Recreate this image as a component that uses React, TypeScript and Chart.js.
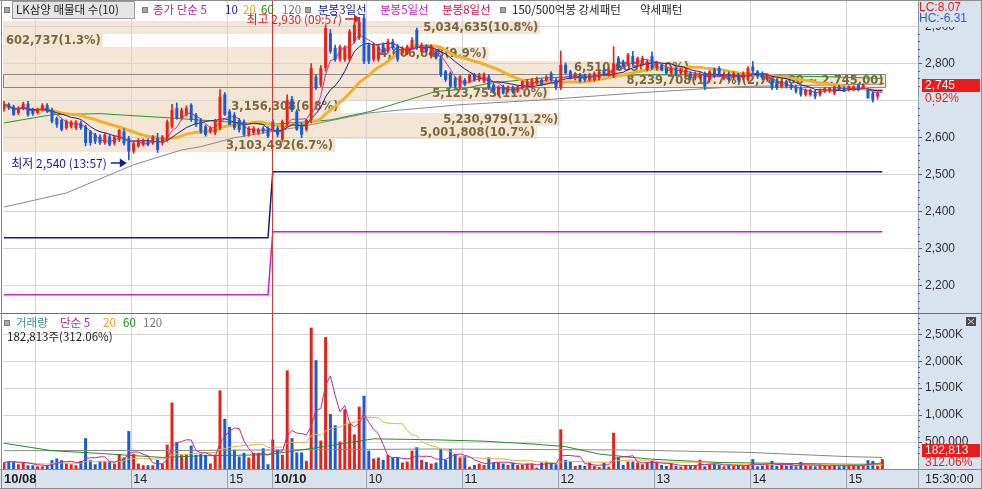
import React, { useEffect, useRef } from 'react';
import { Chart, registerables } from 'chart.js';

Chart.register(...registerables);

// ---------------- data ----------------
const stockName = 'LK삼양';
const dayLabels = ['10/08', '10/10'];
const dayStarts = ['12:39', '09:00'];
const dayHours = [[13, 14, 15], [10, 11, 12, 13, 14, 15]];
const closeTimeLabel = '15:30:00';

// 3-minute candles [open, high, low, close]
const candles1008 = [
  [2678, 2698, 2672, 2690], [2690, 2694, 2676, 2680], [2684, 2688, 2660, 2662], [2667, 2684, 2662, 2680], [2680, 2696, 2676, 2692],
  [2692, 2698, 2658, 2662], [2677, 2680, 2660, 2664], [2667, 2680, 2664, 2676], [2676, 2692, 2672, 2688], [2688, 2692, 2668, 2671],
  [2675, 2680, 2640, 2644], [2653, 2656, 2628, 2635], [2648, 2650, 2618, 2622], [2626, 2648, 2622, 2644], [2630, 2646, 2626, 2643],
  [2626, 2646, 2622, 2644], [2640, 2645, 2622, 2626], [2630, 2634, 2578, 2586], [2617, 2620, 2580, 2586], [2608, 2612, 2584, 2590],
  [2603, 2608, 2582, 2586], [2586, 2612, 2582, 2608], [2603, 2608, 2578, 2581], [2585, 2605, 2580, 2603], [2594, 2622, 2590, 2621],
  [2617, 2624, 2580, 2585], [2599, 2604, 2540, 2563], [2563, 2590, 2558, 2585], [2577, 2598, 2574, 2594], [2581, 2597, 2578, 2594],
  [2594, 2598, 2578, 2581], [2585, 2606, 2582, 2603], [2599, 2612, 2560, 2567], [2585, 2606, 2580, 2603], [2594, 2648, 2590, 2644],
  [2630, 2690, 2626, 2675], [2680, 2694, 2650, 2653], [2653, 2680, 2648, 2675], [2662, 2686, 2658, 2680], [2689, 2692, 2644, 2648],
  [2662, 2666, 2630, 2635], [2648, 2652, 2612, 2617], [2630, 2634, 2604, 2608], [2617, 2630, 2612, 2626], [2613, 2650, 2608, 2648],
  [2626, 2730, 2622, 2711], [2716, 2722, 2660, 2662], [2671, 2676, 2635, 2635], [2662, 2668, 2622, 2626], [2648, 2652, 2615, 2621],
  [2644, 2648, 2604, 2608], [2608, 2630, 2604, 2626], [2613, 2630, 2608, 2626], [2613, 2626, 2608, 2622], [2626, 2630, 2612, 2617],
  [2626, 2630, 2600, 2604],
];
const candles1010 = [
  [2644, 2650, 2618, 2622], [2626, 2630, 2602, 2608], [2595, 2648, 2590, 2644], [2635, 2716, 2630, 2702], [2705, 2712, 2670, 2675],
  [2671, 2676, 2620, 2622], [2635, 2640, 2600, 2608], [2622, 2650, 2618, 2648], [2648, 2800, 2640, 2788], [2765, 2770, 2730, 2734],
  [2743, 2795, 2738, 2788], [2788, 2905, 2780, 2896], [2882, 2892, 2828, 2833], [2842, 2850, 2806, 2811], [2811, 2850, 2806, 2846],
  [2811, 2848, 2806, 2842], [2811, 2892, 2806, 2887], [2860, 2910, 2855, 2905], [2869, 2925, 2865, 2914], [2923, 2930, 2800, 2806],
  [2851, 2856, 2800, 2806], [2811, 2856, 2806, 2851], [2811, 2852, 2806, 2846], [2851, 2856, 2830, 2833], [2833, 2866, 2828, 2860],
  [2860, 2866, 2838, 2842], [2846, 2852, 2806, 2811], [2828, 2846, 2824, 2842], [2828, 2850, 2824, 2846], [2842, 2870, 2838, 2864],
  [2891, 2896, 2838, 2842], [2833, 2856, 2828, 2851], [2846, 2852, 2830, 2833], [2820, 2850, 2815, 2846], [2833, 2838, 2812, 2815],
  [2815, 2820, 2765, 2770], [2779, 2782, 2752, 2756], [2774, 2778, 2734, 2738], [2761, 2764, 2734, 2738], [2738, 2768, 2732, 2765],
  [2756, 2760, 2740, 2743], [2752, 2772, 2748, 2770], [2770, 2774, 2752, 2756], [2756, 2774, 2752, 2770], [2752, 2775, 2748, 2770],
  [2765, 2770, 2730, 2734], [2743, 2746, 2720, 2725], [2716, 2740, 2712, 2738], [2738, 2742, 2718, 2720], [2725, 2740, 2722, 2738],
  [2736, 2740, 2720, 2723], [2725, 2742, 2722, 2738], [2734, 2754, 2730, 2752], [2738, 2756, 2734, 2752], [2738, 2760, 2734, 2756],
  [2747, 2764, 2744, 2761], [2756, 2760, 2740, 2743], [2756, 2768, 2752, 2765], [2774, 2778, 2752, 2756], [2756, 2760, 2730, 2734],
  [2734, 2834, 2730, 2797], [2797, 2802, 2772, 2774], [2779, 2782, 2758, 2761], [2761, 2776, 2756, 2774], [2770, 2774, 2750, 2752],
  [2770, 2772, 2752, 2756], [2756, 2774, 2752, 2770], [2756, 2778, 2752, 2774], [2761, 2782, 2756, 2779], [2783, 2788, 2766, 2770],
  [2770, 2788, 2766, 2783], [2766, 2846, 2762, 2801], [2815, 2820, 2784, 2788], [2806, 2810, 2790, 2792], [2797, 2828, 2794, 2824],
  [2820, 2833, 2798, 2801], [2797, 2818, 2794, 2815], [2797, 2820, 2794, 2815], [2783, 2810, 2780, 2806], [2820, 2832, 2784, 2788],
  [2788, 2806, 2784, 2801], [2797, 2800, 2780, 2783], [2788, 2792, 2770, 2774], [2774, 2792, 2770, 2788], [2788, 2792, 2766, 2770],
  [2774, 2788, 2770, 2783], [2770, 2788, 2766, 2783], [2774, 2778, 2756, 2761], [2761, 2778, 2756, 2774], [2761, 2776, 2758, 2770],
  [2774, 2778, 2730, 2738], [2756, 2782, 2750, 2779], [2784, 2788, 2762, 2766], [2788, 2792, 2766, 2770], [2761, 2778, 2756, 2774],
  [2774, 2778, 2752, 2756], [2761, 2778, 2756, 2774], [2770, 2774, 2750, 2756], [2761, 2778, 2756, 2774], [2756, 2792, 2752, 2788],
  [2792, 2806, 2776, 2779], [2779, 2782, 2760, 2765], [2774, 2778, 2756, 2761], [2756, 2772, 2752, 2770], [2756, 2760, 2730, 2734],
  [2752, 2756, 2730, 2734], [2738, 2754, 2734, 2752], [2752, 2756, 2734, 2738], [2743, 2746, 2730, 2734], [2738, 2742, 2720, 2725],
  [2734, 2738, 2712, 2716], [2716, 2732, 2712, 2729], [2716, 2732, 2712, 2729], [2725, 2728, 2705, 2711], [2716, 2732, 2712, 2729],
  [2725, 2736, 2722, 2734], [2725, 2736, 2722, 2734], [2720, 2740, 2716, 2738], [2738, 2742, 2728, 2729], [2734, 2738, 2724, 2725],
  [2729, 2740, 2726, 2738], [2729, 2740, 2726, 2738], [2743, 2746, 2726, 2729], [2734, 2746, 2732, 2743], [2729, 2732, 2706, 2707],
  [2720, 2724, 2696, 2702], [2711, 2724, 2704, 2720], [2745, 2745, 2745, 2745],
];
// volume in thousand shares
const volume1008 = [
  120, 151, 138, 88, 120, 69, 69, 50, 50, 69,
  164, 195, 164, 101, 88, 69, 151, 572, 164, 88,
  151, 151, 132, 101, 277, 214, 704, 277, 101, 69,
  69, 69, 170, 101, 453, 1233, 497, 264, 264, 434,
  264, 277, 264, 101, 264, 1459, 931, 780, 358, 233,
  302, 214, 302, 302, 384, 88,
];
const volume1010 = [
  547, 358, 264, 1830, 572, 308, 308, 151, 2623, 2019,
  528, 2447, 1019, 811, 509, 1107, 843, 642, 1157, 1359,
  340, 195, 214, 170, 264, 214, 214, 120, 138, 340,
  403, 170, 132, 101, 120, 371, 170, 371, 277, 214,
  239, 44, 75, 101, 75, 214, 120, 120, 101, 75,
  120, 75, 75, 101, 101, 25, 120, 138, 120, 88,
  736, 170, 138, 57, 75, 57, 120, 57, 38, 120,
  44, 673, 214, 75, 138, 138, 120, 88, 120, 151,
  120, 75, 57, 101, 57, 44, 75, 57, 69, 170,
  50, 82, 101, 75, 50, 69, 57, 69, 57, 75,
  182, 50, 63, 88, 151, 57, 75, 63, 69, 50,
  133, 63, 57, 50, 69, 63, 57, 75, 50, 57,
  63, 69, 57, 63, 164, 150, 58.583, 182.813,
];

// long averages: [bar, value]
const priceMa60 = [[0, 2640], [10, 2662], [20, 2665], [34, 2654], [55, 2635], [68, 2648], [76, 2670], [90, 2725], [95, 2730], [101, 2747], [112, 2761], [125, 2768], [139, 2770], [155, 2768], [170, 2765], [183, 2760]];
const priceMa120 = [[0, 2413], [13, 2451], [27, 2527], [37, 2567], [41, 2576], [48, 2600], [62, 2630], [76, 2667], [95, 2689], [112, 2702], [132, 2721], [153, 2738], [183, 2745]];
const volumeMa60 = [[0, 478], [10, 340], [20, 289], [33, 214], [41, 245], [55, 264], [68, 434], [77, 560], [90, 541], [100, 516], [110, 465], [117, 415], [124, 277], [131, 214], [135, 182], [149, 120], [177, 88], [183, 88]];
const volumeMa120 = [[0, 340], [40, 345], [90, 371], [130, 352], [155, 308], [175, 233], [183, 214]];
const dayLine3 = [2330, 2508];
const dayLine5 = [2176, 2346];

// volume profile (top band first)
const bandVolumes = [5034635, 602737, 4606848, 6510605, 8239708, 5123755, 3156308, 5230979, 5001808, 3103492];
const bandPercents = [10.8, 1.3, 9.9, 14.0, 17.7, 11.0, 6.8, 11.2, 10.7, 6.7];
const bandTopPrice = 2914;
const bandStepPrice = 35.2;
const maxBandRange = '2,780.00 ~ 2,745.00';

const priceTicks = [2200, 2300, 2400, 2500, 2600, 2700, 2800, 2900];
const volumeTicks = [500, 1000, 1500, 2000, 2500];
const changePercent = 0.92;
const lcValue = '8.07';
const hcValue = '-6.31';

// ---------------- derived ----------------
const candles = [...candles1008, ...candles1010];
const volumes = [...volume1008, ...volume1010];
const dayOffsets = [0, candles1008.length];
const N = candles.length;
const toMin = (s: string) => Number(s.slice(0, 2)) * 60 + Number(s.slice(3, 5));
const hourMarks: { pos: number; label: string }[] = [];
dayHours.forEach((hs, d) => hs.forEach((h) => hourMarks.push({ pos: dayOffsets[d] + (h * 60 - toMin(dayStarts[d])) / 3 - 0.5, label: String(h) })));
const dayOf = (i: number) => (i >= dayOffsets[1] ? 1 : 0);
const barTime = (i: number) => {
  const d = dayOf(i);
  const m = toMin(dayStarts[d]) + 3 * (i - dayOffsets[d]);
  return `${String(Math.floor(m / 60)).padStart(2, '0')}:${String(m % 60).padStart(2, '0')}`;
};
const sma = (vals: number[], n: number) => vals.map((_, i) => {
  const s = Math.max(0, i - n + 1);
  let t = 0;
  for (let k = s; k <= i; k++) t += vals[k];
  return t / (i - s + 1);
});
const closes = candles.map((c) => c[3]);
const isUp = (c: number[]) => c[3] >= c[0];
const fmt = (v: number) => Math.round(v).toLocaleString('en-US');

// ---------------- style ----------------
const RED = '#e3241b';
const BLUE = '#1b5bcf';
const AXIS_BG = '#d9e3ee';
const GRID = '#d5d5d5';
const BAND_FILL = '#f4e6d4';
const BAND_TEXT = '#7a683c';
const BAND_FONT = "bold 11.5px 'DejaVu Sans', sans-serif";
const KR_FONT = "11.5px 'Noto Sans CJK KR', sans-serif";
const KR_FONT12 = "12px 'Noto Sans CJK KR', sans-serif";
const NUM_FONT = "12px 'Liberation Sans', Arial, sans-serif";
const X_MIN = -0.208;
const X_MAX = 190.417;
const C_MA5 = '#cc2ab8';
const C_MA10 = '#1c1c8e';
const C_MA20 = '#f0b22e';
const C_MA60 = '#279a2b';
const C_MA120 = '#8a8a8a';

const barColors = candles.map((c) => (isUp(c) ? RED : BLUE));

function xScaleOptions() {
  return {
    type: 'linear',
    position: 'bottom',
    min: X_MIN,
    max: X_MAX,
    offset: false,
    grid: { color: GRID, drawTicks: false, offset: false },
    border: { display: false },
    ticks: { display: false },
    afterBuildTicks: (s: any) => { s.ticks = hourMarks.map((m) => ({ value: m.pos })); },
    afterFit: (s: any) => { s.height = 0; s.paddingLeft = 0; s.paddingRight = 0; },
  };
}

// invisible horizontal scale for the volume-profile bar lengths
function profileScaleOptions() {
  return {
    type: 'linear',
    position: 'bottom',
    min: 930000,
    max: 9890000,
    offset: false,
    grid: { display: false, drawTicks: false },
    border: { display: false },
    ticks: { display: false },
    afterFit: (s: any) => { s.height = 0; s.paddingLeft = 0; s.paddingRight = 0; },
  };
}

function lineDs(data: any[], color: string, width: number, order: number) {
  return { type: 'line', data, borderColor: color, borderWidth: width, pointRadius: 0, tension: 0, fill: false, order };
}
const pts = (arr: number[]) => arr.map((v, i) => ({ x: i, y: v }));
const pairPts = (arr: number[][]) => arr.map(([x, y]) => ({ x, y }));

function txt(ctx: CanvasRenderingContext2D, s: string, x: number, y: number, color: string, font: string, align: CanvasTextAlign = 'left') {
  ctx.font = font;
  ctx.fillStyle = color;
  ctx.textAlign = align;
  ctx.textBaseline = 'middle';
  ctx.fillText(s, x, y);
}
function bullet(ctx: CanvasRenderingContext2D, x: number, y: number) {
  ctx.fillStyle = '#a8a8a8';
  ctx.fillRect(x, y, 6, 6);
  ctx.strokeStyle = '#7a7a7a';
  ctx.lineWidth = 1;
  ctx.strokeRect(x + 0.5, y + 0.5, 5, 5);
}
function arrow(ctx: CanvasRenderingContext2D, x0: number, x1: number, y: number, color: string) {
  ctx.strokeStyle = color;
  ctx.fillStyle = color;
  ctx.lineWidth = 1.5;
  ctx.beginPath();
  ctx.moveTo(x0, y);
  ctx.lineTo(x1 - 5, y);
  ctx.stroke();
  ctx.beginPath();
  ctx.moveTo(x1, y);
  ctx.lineTo(x1 - 7, y - 4.5);
  ctx.lineTo(x1 - 7, y + 4.5);
  ctx.closePath();
  ctx.fill();
}

function bandLayout(chart: any) {
  const { ctx, chartArea: a } = chart;
  const ys = chart.scales.y;
  const xs = chart.scales.x;
  const xp = chart.scales.xp;
  const lastX = xs.getPixelForValue(N - 1);
  const maxV = Math.max(...bandVolumes);
  ctx.save();
  ctx.font = BAND_FONT;
  const out = bandVolumes.map((v, k) => {
    const hi = bandTopPrice - k * bandStepPrice;
    const lo = hi - bandStepPrice;
    const y0 = Math.round(ys.getPixelForValue(hi));
    const y1 = Math.round(ys.getPixelForValue(lo));
    const isMax = v === maxV;
    const text = `${fmt(v)}(${bandPercents[k].toFixed(1)}%)` + (isMax ? `(${maxBandRange})` : '');
    const w = ctx.measureText(text).width;
    let lx = xp.getPixelForValue(v);
    lx = Math.min(lx, lastX - w);
    lx = Math.max(lx, a.left + 2);
    return { y0, y1, lx, w, text, isMax };
  });
  ctx.restore();
  return { bands: out, lastX };
}

const pricePlugin = {
  id: 'pricePanel',
  beforeDraw(chart: any) {
    const { ctx, chartArea: a, width, height } = chart;
    ctx.save();
    ctx.fillStyle = '#fff';
    ctx.fillRect(0, 0, width, height);
    ctx.fillStyle = AXIS_BG;
    ctx.fillRect(a.right, 0, width - a.right, height);
    const { bands } = bandLayout(chart);
    ctx.fillStyle = BAND_FILL;
    bands.forEach((b) => ctx.fillRect(a.left, b.y0, b.lx + b.w + 3 - a.left, b.y1 - b.y0));
    ctx.restore();
  },
  beforeDatasetsDraw(chart: any) {
    const { ctx, chartArea: a } = chart;
    const { bands, lastX } = bandLayout(chart);
    ctx.save();
    bands.forEach((b) => {
      if (b.isMax) {
        ctx.strokeStyle = '#8a8a8a';
        ctx.lineWidth = 1;
        ctx.strokeRect(a.left + 0.5, b.y0 + 0.5, Math.round(lastX + 3 - a.left), b.y1 - b.y0);
      }
      txt(ctx, b.text, b.lx + 1, (b.y0 + b.y1) / 2 + 0.5, BAND_TEXT, BAND_FONT);
    });
    ctx.restore();
  },
  afterDraw(chart: any) {
    const { ctx, chartArea: a, width, height } = chart;
    const xs = chart.scales.x;
    const ys = chart.scales.y;
    ctx.save();
    // day separator
    ctx.strokeStyle = '#d23a3a';
    ctx.lineWidth = 1;
    for (let d = 1; d < dayOffsets.length; d++) {
      const x = Math.round(xs.getPixelForValue(dayOffsets[d] - 0.25)) + 0.5;
      ctx.beginPath();
      ctx.moveTo(x, 0);
      ctx.lineTo(x, height);
      ctx.stroke();
    }
    // highest / lowest annotations
    let hiI = 0;
    let loI = 0;
    candles.forEach((c, i) => {
      if (c[1] > candles[hiI][1]) hiI = i;
      if (c[2] < candles[loI][2]) loI = i;
    });
    const hx = xs.getPixelForValue(hiI);
    const hy = ys.getPixelForValue(candles[hiI][1]) + 3.5;
    txt(ctx, `최고 ${fmt(candles[hiI][1])} (${barTime(hiI)})`, hx - 22, hy, '#d81e1e', KR_FONT12, 'right');
    arrow(ctx, hx - 19, hx - 3, hy, '#d81e1e');
    const lx = xs.getPixelForValue(loI);
    const ly = ys.getPixelForValue(candles[loI][2]) + 3;
    txt(ctx, `최저 ${fmt(candles[loI][2])} (${barTime(loI)})`, lx - 22, ly, '#1a1aa0', KR_FONT12, 'right');
    arrow(ctx, lx - 18, lx - 2, ly, '#1a1aa0');

    // header legend
    bullet(ctx, 4, 7);
    ctx.fillStyle = '#e4e4e4';
    ctx.fillRect(12, 1, 122, 17);
    ctx.strokeStyle = '#9a9a9a';
    ctx.strokeRect(12.5, 1.5, 122, 17);
    txt(ctx, `${stockName} 매물대 수(${bandVolumes.length})`, 16, 10, '#222', KR_FONT);
    bullet(ctx, 142, 7);
    txt(ctx, '종가 단순 5', 153, 10, '#b5259f', KR_FONT);
    txt(ctx, '10', 225, 10, '#1c1c9c', KR_FONT);
    txt(ctx, '20', 243, 10, '#e5a21e', KR_FONT);
    txt(ctx, '60', 261, 10, '#1f8a1f', KR_FONT);
    txt(ctx, '120', 282, 10, '#777', KR_FONT);
    bullet(ctx, 305, 7);
    txt(ctx, '분봉3일선', 318, 10, '#101a8c', KR_FONT);
    txt(ctx, '분봉5일선', 380, 10, '#c21cc2', KR_FONT);
    txt(ctx, '분봉8일선', 442, 10, '#d0124c', KR_FONT);
    bullet(ctx, 500, 7);
    txt(ctx, '150/500억봉 강세패턴', 512, 10, '#222', KR_FONT);
    txt(ctx, '약세패턴', 640, 10, '#222', KR_FONT);

    // minor ticks
    ctx.strokeStyle = '#666';
    ctx.lineWidth = 1;
    for (let v = Math.ceil(ys.min / 20) * 20; v <= ys.max; v += 20) {
      if (v % 100 === 0) continue;
      const y = Math.round(ys.getPixelForValue(v)) + 0.5;
      ctx.beginPath();
      ctx.moveTo(a.right, y);
      ctx.lineTo(a.right + 2, y);
      ctx.stroke();
    }
    // LC / HC
    ctx.fillStyle = AXIS_BG;
    ctx.fillRect(a.right + 1, 0, width - a.right - 1, 27);
    txt(ctx, `LC:${lcValue}`, a.right + 1, 7.5, '#e02020', NUM_FONT);
    txt(ctx, `HC:${hcValue}`, a.right + 1, 18.5, '#2a62c8', NUM_FONT);
    // price tag
    const last = closes[N - 1];
    const py = ys.getPixelForValue(last);
    ctx.fillStyle = '#e81c1c';
    ctx.fillRect(a.right + 4, Math.round(py - 5), 58, 13);
    txt(ctx, fmt(last), a.right + 7, Math.round(py - 5) + 7, '#fff', NUM_FONT);
    ctx.fillStyle = AXIS_BG;
    ctx.fillRect(a.right + 1, Math.round(py + 8), width - a.right - 1, 12);
    txt(ctx, `${changePercent.toFixed(2)}%`, a.right + 7, Math.round(py + 8) + 6.5, '#e02020', NUM_FONT);
    // frame
    ctx.strokeStyle = '#8c8c8c';
    ctx.lineWidth = 1;
    ctx.beginPath();
    ctx.moveTo(0, 0.5);
    ctx.lineTo(width, 0.5);
    ctx.moveTo(1.5, 0);
    ctx.lineTo(1.5, height);
    ctx.moveTo(width - 0.5, 0);
    ctx.lineTo(width - 0.5, height);
    ctx.stroke();
    ctx.restore();
  },
};

const volumePlugin = {
  id: 'volumePanel',
  beforeDraw(chart: any) {
    const { ctx, chartArea: a, width, height } = chart;
    ctx.save();
    ctx.fillStyle = '#fff';
    ctx.fillRect(0, 0, width, height);
    ctx.fillStyle = AXIS_BG;
    ctx.fillRect(a.right, 0, width - a.right, height);
    ctx.fillRect(0, a.bottom, width, height - a.bottom);
    ctx.restore();
  },
  afterDraw(chart: any) {
    const { ctx, chartArea: a, width, height } = chart;
    const xs = chart.scales.x;
    const ys = chart.scales.y;
    ctx.save();
    // day separator
    ctx.strokeStyle = '#d23a3a';
    ctx.lineWidth = 1;
    const dayX: number[] = [];
    for (let d = 1; d < dayOffsets.length; d++) {
      const x = Math.round(xs.getPixelForValue(dayOffsets[d] - 0.25)) + 0.5;
      dayX.push(x);
      ctx.beginPath();
      ctx.moveTo(x, 0);
      ctx.lineTo(x, a.bottom);
      ctx.stroke();
    }
    // header
    bullet(ctx, 4, 7);
    txt(ctx, '거래량', 16, 10, '#3d8aa0', KR_FONT);
    txt(ctx, '단순 5', 60, 10, '#b5259f', KR_FONT);
    txt(ctx, '20', 103, 10, '#e5a21e', KR_FONT);
    txt(ctx, '60', 123, 10, '#1f8a1f', KR_FONT);
    txt(ctx, '120', 143, 10, '#777', KR_FONT);
    const lastV = volumes[N - 1];
    const ratio = ((lastV / volumes[N - 2]) * 100).toFixed(2);
    txt(ctx, `${fmt(lastV * 1000)}주(${ratio}%)`, 7, 24, '#222', KR_FONT);
    // minor ticks
    ctx.strokeStyle = '#666';
    ctx.lineWidth = 1;
    for (let v = 100; v <= ys.max; v += 100) {
      if (v % 500 === 0) continue;
      const y = Math.round(ys.getPixelForValue(v)) + 0.5;
      ctx.beginPath();
      ctx.moveTo(a.right, y);
      ctx.lineTo(a.right + 2, y);
      ctx.stroke();
    }
    // volume tag
    const vy = Math.round(ys.getPixelForValue(lastV));
    ctx.fillStyle = '#e81c1c';
    ctx.fillRect(a.right + 4, vy - 15, 58, 13);
    txt(ctx, fmt(lastV * 1000), a.right + 7, vy - 8.5, '#fff', NUM_FONT);
    ctx.fillStyle = AXIS_BG;
    ctx.fillRect(a.right + 1, vy - 2, width - a.right - 1, 12);
    txt(ctx, `${ratio}%`, a.right + 7, vy + 4, '#e02020', NUM_FONT);
    // close icon
    ctx.fillStyle = '#4a4a4a';
    ctx.fillRect(width - 16, 4, 10, 9);
    ctx.strokeStyle = '#ddd';
    ctx.beginPath();
    ctx.moveTo(width - 14, 6);
    ctx.lineTo(width - 8, 11);
    ctx.moveTo(width - 8, 6);
    ctx.lineTo(width - 14, 11);
    ctx.stroke();
    // time strip
    ctx.strokeStyle = '#98a4b4';
    ctx.lineWidth = 1;
    const seps = [...hourMarks.map((m) => Math.round(xs.getPixelForValue(m.pos)) + 0.5), ...dayX, a.right + 0.5];
    seps.forEach((x) => {
      ctx.beginPath();
      ctx.moveTo(x, a.bottom);
      ctx.lineTo(x, height);
      ctx.stroke();
    });
    const labels: { x: number; text: string; bold: boolean }[] = [];
    dayLabels.forEach((d, k) => labels.push({ x: k === 0 ? a.left + 1 : dayX[k - 1] + 1.5, text: d, bold: true }));
    hourMarks.forEach((m) => labels.push({ x: xs.getPixelForValue(m.pos) + 2, text: m.label, bold: false }));
    labels.sort((p, q) => p.x - q.x);
    let prevEnd = -Infinity;
    const ty = a.bottom + 10.5;
    labels.forEach((l) => {
      const font = l.bold ? "bold 13px 'Liberation Sans', Arial, sans-serif" : "12.5px 'Liberation Sans', Arial, sans-serif";
      ctx.font = font;
      const w = ctx.measureText(l.text).width;
      if (l.x < prevEnd + 2) return;
      txt(ctx, l.text, l.x, ty, '#222', font);
      prevEnd = l.x + w;
    });
    txt(ctx, closeTimeLabel, a.right + 7, ty, '#222', "12.5px 'Liberation Sans', Arial, sans-serif");
    // frame
    ctx.strokeStyle = '#6f6f6f';
    ctx.beginPath();
    ctx.moveTo(0, 0.5);
    ctx.lineTo(width, 0.5);
    ctx.stroke();
    ctx.strokeStyle = '#8c8c8c';
    ctx.beginPath();
    ctx.moveTo(0, a.bottom + 0.5);
    ctx.lineTo(width, a.bottom + 0.5);
    ctx.moveTo(1.5, 0);
    ctx.lineTo(1.5, height);
    ctx.moveTo(width - 0.5, 0);
    ctx.lineTo(width - 0.5, height);
    ctx.moveTo(0, height - 0.5);
    ctx.lineTo(width, height - 0.5);
    ctx.stroke();
    ctx.restore();
  },
};

function priceConfig(): any {
  const stepData = (vals: number[]) => candles.map((_, i) => ({ x: i, y: vals[dayOf(i)] }));
  return {
    type: 'bar',
    data: {
      datasets: [
        { type: 'bar', data: candles.map((c, i) => ({ x: i, y: [c[0], c[3]] })), backgroundColor: barColors, barThickness: 3, grouped: false, minBarLength: 1, inflateAmount: 0, order: 0 },
        { type: 'bar', data: candles.map((c, i) => ({ x: i, y: [c[2], c[1]] })), backgroundColor: barColors, barThickness: 1, grouped: false, order: 1 },
        lineDs(pts(sma(closes, 5)), C_MA5, 1, 2),
        lineDs(pts(sma(closes, 10)), C_MA10, 1, 3),
        lineDs(pts(sma(closes, 20)), C_MA20, 3, 4),
        lineDs(pairPts(priceMa60), C_MA60, 1, 5),
        lineDs(pairPts(priceMa120), C_MA120, 1, 6),
        lineDs(stepData(dayLine3), '#1a1a8a', 1.5, 7),
        lineDs(stepData(dayLine5), '#cc22cc', 1.5, 8),
      ],
    },
    options: {
      responsive: false,
      animation: false,
      devicePixelRatio: 1,
      events: [],
      layout: { padding: { left: 3, top: 1, right: 0, bottom: 0 } },
      plugins: { legend: { display: false }, tooltip: { enabled: false } },
      scales: {
        x: xScaleOptions(),
        xp: profileScaleOptions(),
        y: {
          type: 'linear',
          position: 'right',
          min: 2127,
          max: 2969,
          afterBuildTicks: (s: any) => { s.ticks = priceTicks.map((v) => ({ value: v })); },
          afterFit: (s: any) => { s.width = 64; s.paddingTop = 0; s.paddingBottom = 0; },
          grid: { color: GRID, tickColor: '#555', tickLength: 4 },
          border: { color: '#8e9db0' },
          ticks: { color: '#333', font: { family: "'Liberation Sans', Arial, sans-serif", size: 12 }, padding: 3, callback: (v: any) => Number(v).toLocaleString('en-US') },
        },
      },
    },
    plugins: [pricePlugin],
  };
}

function volumeConfig(): any {
  return {
    type: 'bar',
    data: {
      datasets: [
        lineDs(pts(sma(volumes, 5)), '#c02890', 1, 0),
        lineDs(pts(sma(volumes, 20)), '#e8b040', 1, 1),
        lineDs(pairPts(volumeMa60), '#2a8a2a', 1, 2),
        lineDs(pairPts(volumeMa120), '#888', 1, 3),
        { type: 'bar', data: volumes.map((v, i) => ({ x: i, y: v })), backgroundColor: barColors, barThickness: 3, grouped: false, inflateAmount: 0, order: 5 },
      ],
    },
    options: {
      responsive: false,
      animation: false,
      devicePixelRatio: 1,
      events: [],
      layout: { padding: { left: 3, top: 1, right: 0, bottom: 20 } },
      plugins: { legend: { display: false }, tooltip: { enabled: false } },
      scales: {
        x: xScaleOptions(),
        y: {
          type: 'linear',
          position: 'right',
          min: 0,
          max: 2876,
          afterBuildTicks: (s: any) => { s.ticks = volumeTicks.map((v) => ({ value: v })); },
          afterFit: (s: any) => { s.width = 64; s.paddingTop = 0; s.paddingBottom = 0; },
          grid: { color: GRID, tickColor: '#555', tickLength: 4 },
          border: { color: '#8e9db0' },
          ticks: {
            color: '#333',
            font: { family: "'Liberation Sans', Arial, sans-serif", size: 12 },
            padding: 3,
            callback: (v: any) => (Number(v) >= 1000 ? `${Number(v).toLocaleString('en-US')}K` : (Number(v) * 1000).toLocaleString('en-US')),
          },
        },
      },
    },
    plugins: [volumePlugin],
  };
}

export default function App() {
  const priceRef = useRef<HTMLCanvasElement>(null);
  const volRef = useRef<HTMLCanvasElement>(null);
  useEffect(() => {
    document.body.style.margin = '0';
    const pc = new Chart(priceRef.current as HTMLCanvasElement, priceConfig());
    const vc = new Chart(volRef.current as HTMLCanvasElement, volumeConfig());
    return () => {
      pc.destroy();
      vc.destroy();
    };
  }, []);
  return (
    <div style={{ position: 'fixed', left: 0, top: 0, width: 982, height: 489, background: '#fff', overflow: 'hidden' }}>
      <canvas ref={priceRef} width={982} height={313} style={{ display: 'block', width: 982, height: 313 }} />
      <canvas ref={volRef} width={982} height={176} style={{ display: 'block', width: 982, height: 176 }} />
    </div>
  );
}
